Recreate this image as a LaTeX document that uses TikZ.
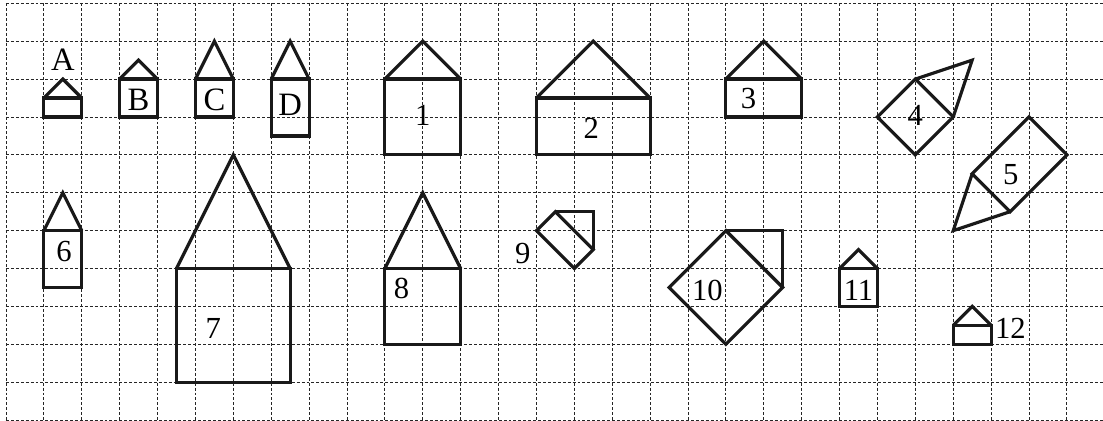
\documentclass[tikz,border=0pt]{standalone}
\usepackage{fontspec}
\setmainfont{Liberation Serif}
\begin{document}
\begin{tikzpicture}[x=1cm,y=1cm,
  gridline/.style={black!85, line width=0.7pt, dash pattern=on 2.2pt off 1.5pt},
  fig/.style={black!90, line width=2.4pt, line join=miter},
  lab/.style={inner sep=0pt, font=\fontsize{23}{23}\selectfont},
  letlab/.style={inner sep=0pt, font=\fontsize{24.5}{24.5}\selectfont}]
\useasboundingbox (-0.158,0.087) rectangle (28.953,-11.024);
% grid
\foreach \i in {0,...,11} \draw[gridline] (0,-\i) -- (28.953,-\i);
\foreach \i in {0,...,28} \draw[gridline] (\i,0) -- (\i,-11);
% A
\draw[fig] (1,-2.5) rectangle (2,-3);
\draw[fig] (1,-2.5) -- (1.5,-2) -- (2,-2.5);
\node[letlab] (labA) at (1.5,-1.5) {A};
% B
\draw[fig] (3,-2) rectangle (4,-3);
\draw[fig] (3,-2) -- (3.5,-1.5) -- (4,-2);
\node[letlab] (labB) at (3.5,-2.55) {B};
% C
\draw[fig] (5,-2) rectangle (6,-3);
\draw[fig] (5,-2) -- (5.5,-1) -- (6,-2);
\node[letlab] (labC) at (5.5,-2.55) {C};
% D
\draw[fig] (7,-2) rectangle (8,-3.5);
\draw[fig] (7,-2) -- (7.5,-1) -- (8,-2);
\node[letlab] (labD) at (7.5,-2.68) {D};
% 1
\draw[fig] (10,-2) rectangle (12,-4);
\draw[fig] (10,-2) -- (11,-1) -- (12,-2);
\node[lab] (lab1) at (11,-2.95) {1};
% 2
\draw[fig] (14,-2.5) rectangle (17,-4);
\draw[fig] (14,-2.5) -- (15.5,-1) -- (17,-2.5);
\node[lab] (lab2) at (15.45,-3.3) {2};
% 3
\draw[fig] (19,-2) rectangle (21,-3);
\draw[fig] (19,-2) -- (20,-1) -- (21,-2);
\node[lab] (lab3) at (19.6,-2.5) {3};
% 4
\draw[fig] (23,-3) -- (24,-2) -- (25,-3) -- (24,-4) -- cycle;
\draw[fig] (24,-2) -- (25.5,-1.5) -- (25,-3);
\node[lab] (lab4) at (24,-2.95) {4};
% 5
\draw[fig] (27,-3) -- (28,-4) -- (26.5,-5.5) -- (25.5,-4.5) -- cycle;
\draw[fig] (25.5,-4.5) -- (25,-6) -- (26.5,-5.5);
\node[lab] (lab5) at (26.52,-4.53) {5};
% 6
\draw[fig] (1,-6) rectangle (2,-7.5);
\draw[fig] (1,-6) -- (1.5,-5) -- (2,-6);
\node[lab] (lab6) at (1.53,-6.55) {6};
% 7
\draw[fig] (4.5,-7) rectangle (7.5,-10);
\draw[fig] (4.5,-7) -- (6,-4) -- (7.5,-7);
\node[lab] (lab7) at (5.47,-8.58) {7};
% 8
\draw[fig] (10,-7) rectangle (12,-9);
\draw[fig] (10,-7) -- (11,-5) -- (12,-7);
\node[lab] (lab8) at (10.44,-7.52) {8};
% 9
\draw[fig] (14,-6) -- (14.5,-5.5) -- (15.5,-6.5) -- (15,-7) -- cycle;
\draw[fig] (14.5,-5.5) -- (15.5,-5.5) -- (15.5,-6.5);
\node[lab] (lab9) at (13.64,-6.6) {9};
% 10
\draw[fig] (17.5,-7.5) -- (19,-6) -- (20.5,-7.5) -- (19,-9) -- cycle;
\draw[fig] (19,-6) -- (20.5,-6) -- (20.5,-7.5);
\node[lab] (lab10) at (18.51,-7.57) {10};
% 11
\draw[fig] (22,-7) rectangle (23,-8);
\draw[fig] (22,-7) -- (22.5,-6.5) -- (23,-7);
\node[lab] (lab11) at (22.5,-7.57) {11};
% 12
\draw[fig] (25,-8.5) rectangle (26,-9);
\draw[fig] (25,-8.5) -- (25.5,-8) -- (26,-8.5);
\node[lab] (lab12) at (26.51,-8.58) {12};
\end{tikzpicture}
\end{document}
